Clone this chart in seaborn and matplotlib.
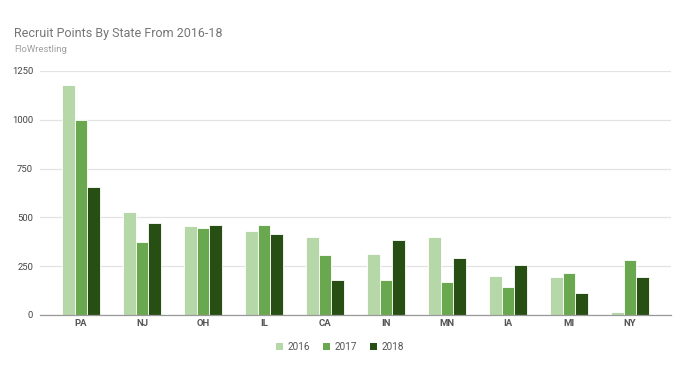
import matplotlib
matplotlib.use("Agg")
import matplotlib.pyplot as plt
import seaborn as sns
import pandas as pd

states = ["PA", "NJ", "OH", "IL", "CA", "IN", "MN", "IA", "MI", "NY"]
years = ["2016", "2017", "2018"]
v2016 = [1180, 530, 455, 430, 398, 310, 398, 198, 193, 17]
v2017 = [1000, 375, 445, 460, 305, 180, 167, 142, 217, 282]
v2018 = [655, 470, 463, 415, 180, 382, 293, 258, 112, 195]
colors = ["#b6d7a8", "#6aa84f", "#274e13"]
yticks = [0, 250, 500, 750, 1000, 1250]

rows = []
for yr, vals in zip(years, [v2016, v2017, v2018]):
    for s, v in zip(states, vals):
        rows.append({"State": s, "Year": yr, "Points": v})
df = pd.DataFrame(rows)

sns.set_theme(style="white")
plt.rcParams['font.family'] = ['Roboto', 'DejaVu Sans']

fig = plt.figure(figsize=(6.8, 3.82), dpi=100)
ax = fig.add_axes([40/680, 1 - 315/382, 631/680, 244/382])

sns.barplot(data=df, x="State", y="Points", hue="Year", order=states,
            hue_order=years, palette=colors, width=0.63, ax=ax,
            edgecolor="white", linewidth=0.6, saturation=1, legend=False)

ax.set_ylim(0, 1250)
ax.set_xlim(-0.672, 9.672)
ax.set_yticks(yticks)
ax.set_yticklabels([str(t) for t in yticks], fontsize=6.8, color="#444444")
ax.tick_params(axis="y", length=0, pad=5)
ax.tick_params(axis="x", length=0, pad=3)
for lab in ax.get_xticklabels():
    lab.set_fontsize(6.8)
    lab.set_color("#555555")
    lab.set_fontweight("bold")
ax.set_xlabel("")
ax.set_ylabel("")
ax.grid(axis="y", color="#e3e3e3", linewidth=0.9)
ax.set_axisbelow(True)
for sp in ["top", "right", "left"]:
    ax.spines[sp].set_visible(False)
ax.spines["bottom"].set_color("#999999")
ax.spines["bottom"].set_linewidth(0.9)

fig.text(14/680, 1 - 34/382, "Recruit Points By State From 2016-18",
         fontsize=9, color="#757575", va="center", ha="left")
fig.text(14/680, 1 - 49/382, "FloWrestling",
         fontsize=6.8, color="#9e9e9e", va="center", ha="left")

from matplotlib.patches import Patch
handles = [Patch(facecolor=c, edgecolor="none") for c in colors]
leg = fig.legend(handles, years, loc="center", bbox_to_anchor=(340/680, 1 - 347/382),
                 ncol=3, frameon=False, fontsize=7.2, handlelength=0.75,
                 handleheight=0.75, handletextpad=0.5, columnspacing=1.2)
for t in leg.get_texts():
    t.set_color("#555555")

fig.savefig("out.png", dpi=100, facecolor="white")
